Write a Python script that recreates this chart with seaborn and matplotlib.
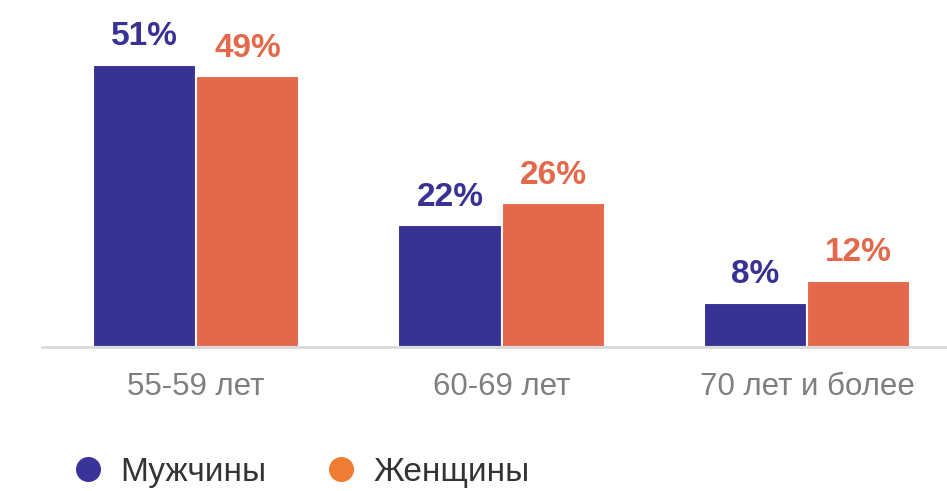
import pandas as pd
import matplotlib.pyplot as plt
import seaborn as sns
from matplotlib.lines import Line2D

categories = ['55-59 лет', '60-69 лет', '70 лет и более']
series = ['Мужчины', 'Женщины']
men = [51, 22, 8]
women = [49, 26, 12]

bar_colors = ['#383295', '#E4694A']
legend_colors = ['#3A3399', '#EE7D33']

df = pd.DataFrame({
    'group': categories * 2,
    'sex': [series[0]] * 3 + [series[1]] * 3,
    'value': men + women,
})

sns.set_style('white')
plt.rcParams['font.family'] = ['Liberation Sans', 'DejaVu Sans']

fig = plt.figure(figsize=(9.47, 4.91), dpi=100)
ax = fig.add_axes([42 / 947, (491 - 347) / 491, 1 - 42 / 947, 347 / 491])

sns.barplot(data=df, x='group', y='value', hue='sex', palette=bar_colors,
            width=0.675, edgecolor='white', linewidth=1.5, saturation=1,
            legend=False, ax=ax)

# подписи над столбцами
for cont, col in zip(ax.containers, bar_colors):
    ax.bar_label(cont, labels=[f'{v:.0f}%' for v in cont.datavalues],
                 padding=9, color=col, fontsize=24, fontweight='bold')

ax.set_xlim(-0.504, 2.458)
ax.set_ylim(0, 62.75)
ax.set_xlabel('')
ax.set_ylabel('')
ax.set_yticks([])
for s in ['top', 'right', 'left']:
    ax.spines[s].set_visible(False)
ax.spines['bottom'].set_color('#D9D9D9')
ax.spines['bottom'].set_linewidth(2)
ax.tick_params(axis='x', length=0, pad=18, labelsize=22.5, labelcolor='#7F7F7F')

handles = [Line2D([], [], marker='o', linestyle='', markersize=17,
                  markerfacecolor=c, markeredgecolor=c) for c in legend_colors]
fig.legend(handles, series, loc='center left', bbox_to_anchor=(0.076, 0.038),
           ncol=2, frameon=False, fontsize=24, handlelength=0.95,
           handletextpad=0.5, columnspacing=1.75, borderpad=0,
           borderaxespad=0, labelcolor='#333333')

fig.savefig('out.png', dpi=100)
